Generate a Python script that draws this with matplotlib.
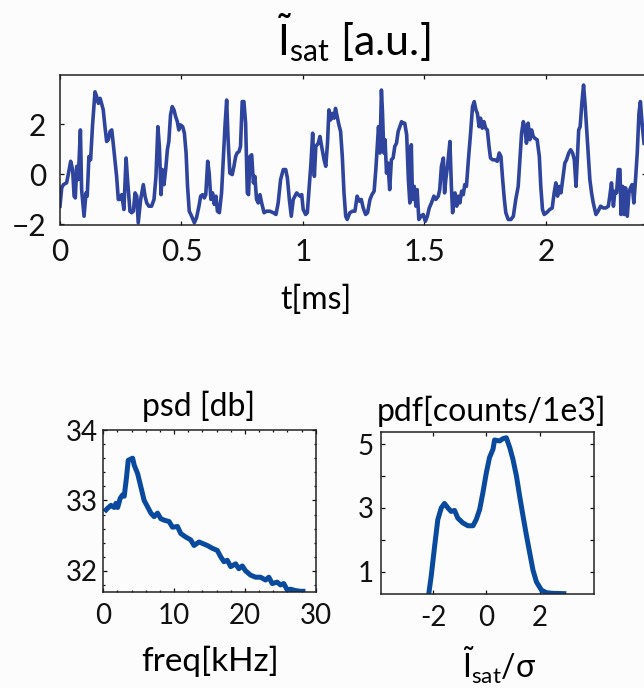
import matplotlib
matplotlib.use("Agg")
import matplotlib.pyplot as plt
from matplotlib.ticker import MultipleLocator

plt.rcParams["font.family"] = ["Lato", "DejaVu Sans"]
plt.rcParams["mathtext.fontset"] = "custom"
plt.rcParams["mathtext.rm"] = "Lato"
plt.rcParams["mathtext.it"] = "Lato:italic"

BG = "#fcfcfc"
TOP_C = "#2f449c"
BOT_C = "#0a4a9e"

# ---- time trace (ms, a.u.) ----
t_ms = [
    0.000, 0.007, 0.014, 0.027, 0.034, 0.044, 0.052, 0.058, 0.063, 0.069,
    0.075, 0.084, 0.089, 0.099, 0.107, 0.112, 0.119, 0.126, 0.134, 0.144,
    0.151, 0.158, 0.165, 0.171, 0.178, 0.185, 0.192, 0.199, 0.206, 0.213,
    0.219, 0.226, 0.233, 0.240, 0.247, 0.254, 0.263, 0.272, 0.278, 0.288,
    0.295, 0.302, 0.309, 0.316, 0.322, 0.332, 0.343, 0.350, 0.357, 0.366,
    0.377, 0.387, 0.395, 0.403, 0.409, 0.416, 0.421, 0.428, 0.435, 0.442,
    0.448, 0.455, 0.462, 0.469, 0.476, 0.483, 0.489, 0.496, 0.505, 0.512,
    0.519, 0.525, 0.532, 0.542, 0.553, 0.562, 0.572, 0.579, 0.587, 0.594,
    0.600, 0.608, 0.614, 0.621, 0.628, 0.635, 0.642, 0.648, 0.656, 0.665,
    0.672, 0.679, 0.686, 0.692, 0.699, 0.709, 0.716, 0.723, 0.729, 0.737,
    0.743, 0.750, 0.757, 0.764, 0.771, 0.776, 0.782, 0.789, 0.796, 0.802,
    0.809, 0.816, 0.823, 0.830, 0.840, 0.850, 0.864, 0.878, 0.889, 0.898,
    0.908, 0.919, 0.929, 0.936, 0.944, 0.952, 0.960, 0.967, 0.974, 0.981,
    0.988, 0.995, 1.001, 1.011, 1.018, 1.026, 1.033, 1.040, 1.047, 1.053,
    1.063, 1.070, 1.077, 1.087, 1.094, 1.101, 1.107, 1.114, 1.121, 1.128,
    1.134, 1.141, 1.148, 1.155, 1.162, 1.169, 1.176, 1.182, 1.193, 1.204,
    1.214, 1.223, 1.232, 1.240, 1.248, 1.258, 1.266, 1.276, 1.284, 1.293,
    1.300, 1.307, 1.311, 1.317, 1.323, 1.327, 1.333, 1.338, 1.344, 1.350,
    1.357, 1.364, 1.371, 1.378, 1.385, 1.392, 1.399, 1.406, 1.412, 1.419,
    1.427, 1.434, 1.440, 1.446, 1.451, 1.458, 1.465, 1.470, 1.477, 1.486,
    1.495, 1.504, 1.512, 1.520, 1.529, 1.539, 1.547, 1.557, 1.563, 1.570,
    1.578, 1.583, 1.588, 1.595, 1.605, 1.611, 1.616, 1.626, 1.633, 1.639,
    1.646, 1.653, 1.660, 1.666, 1.673, 1.681, 1.690, 1.698, 1.705, 1.712,
    1.718, 1.725, 1.731, 1.738, 1.745, 1.752, 1.759, 1.766, 1.772, 1.781,
    1.790, 1.800, 1.808, 1.815, 1.822, 1.829, 1.835, 1.845, 1.856, 1.866,
    1.876, 1.886, 1.893, 1.900, 1.907, 1.913, 1.920, 1.927, 1.934, 1.941,
    1.948, 1.954, 1.964, 1.973, 1.979, 1.986, 1.993, 2.003, 2.016, 2.026,
    2.034, 2.041, 2.048, 2.055, 2.062, 2.071, 2.078, 2.085, 2.094, 2.102,
    2.110, 2.117, 2.124, 2.129, 2.135, 2.141, 2.148, 2.155, 2.162, 2.167,
    2.174, 2.181, 2.188, 2.195, 2.206, 2.215, 2.225, 2.236, 2.247, 2.257,
    2.263, 2.270, 2.278, 2.284, 2.291, 2.298, 2.305, 2.309, 2.316, 2.322,
    2.328, 2.335, 2.342, 2.348, 2.355, 2.362, 2.369, 2.376, 2.383, 2.389,
    2.397, 2.404,
]
isat = [
    -1.27, -0.54, -0.41, -0.34, -0.01, 0.52, 0.19, -0.87, -0.94, 0.32,
    -0.21, 1.77, -0.61, -1.67, -0.74, -0.87, 0.71, 0.58, 1.97, 3.29,
    3.10, 2.83, 3.03, 2.83, 2.57, 1.90, 1.31, 1.38, 1.71, 1.77,
    1.24, 0.58, -0.08, -1.00, -1.00, -0.81, -1.40, 0.65, -0.21, -1.47,
    -1.53, -1.47, -0.74, -0.87, -1.93, -1.00, -0.41, -0.87, -1.14, -1.27,
    -1.27, -1.00, -0.08, 1.90, 1.11, -0.81, 0.19, -0.41, 0.19, 0.98,
    1.31, 2.37, 2.70, 2.57, 2.30, 2.10, 1.77, 1.97, 1.90, 1.64,
    0.85, -0.48, -1.47, -1.67, -1.93, -1.73, -1.27, -0.87, -0.81, -0.94,
    -0.81, 0.52, 0.05, -1.00, -0.74, -1.20, -0.87, -1.47, -1.53, -0.74,
    0.58, 1.90, 2.96, 1.38, 0.05, -0.01, 0.32, 0.71, 0.85, 0.91,
    1.11, 2.90, 2.90, 2.04, -0.74, -0.81, 0.71, 0.78, -0.34, -0.08,
    -1.00, -1.14, -0.81, -1.14, -1.53, -1.47, -1.47, -1.53, -1.60, -1.14,
    -0.21, 0.19, 0.19, -0.15, -1.00, -1.67, -1.00, -0.87, -0.74, -0.81,
    -0.87, -0.81, -1.40, -1.60, -1.53, -0.48, 0.45, 1.64, -0.08, 1.11,
    1.24, 1.51, 1.11, 0.58, 0.32, 1.24, 2.57, 2.17, 2.43, 2.24,
    2.63, 2.30, 1.97, 1.71, 0.71, -0.74, -1.67, -1.80, -1.53, -1.47,
    -1.47, -0.87, -1.07, -1.00, -1.34, -1.60, -1.53, -1.00, -0.81, -0.67,
    0.19, 1.24, 1.90, 0.85, 3.36, 2.57, 0.85, 1.38, 0.05, 0.45,
    -0.61, 0.58, 0.65, 1.11, 1.24, 1.71, 1.90, 2.10, 2.04, 2.04,
    1.57, -0.21, -1.14, 1.18, -1.00, -0.48, -1.27, -0.61, -1.80, -1.67,
    -1.60, -1.87, -1.67, -1.34, -1.14, -0.87, -1.00, -0.87, -0.61, 0.32,
    0.65, -0.74, -0.21, 0.32, 1.31, -0.48, -1.53, -0.74, -1.27, -0.87,
    -1.14, -0.67, -0.81, -0.41, -0.48, 0.58, 1.64, 2.70, 2.90, 2.57,
    2.43, 1.90, 2.24, 1.84, 2.10, 1.84, 1.77, 1.11, 0.65, 0.58,
    0.58, 0.52, 0.85, 0.71, -0.21, -1.00, -1.53, -1.80, -1.80, -1.67,
    -1.00, -0.48, 0.58, 1.64, 2.10, 1.90, 1.24, 2.04, 1.38, 1.77,
    1.51, 1.44, 1.38, 0.71, -0.48, -1.40, -1.60, -1.53, -1.40, -1.34,
    -0.74, -0.34, -0.87, -0.48, -0.74, -0.08, 0.45, 0.58, 0.85, 0.98,
    0.85, 0.58, -0.48, 0.58, 1.77, 1.90, 2.83, 3.56, 2.70, 1.90,
    0.85, -0.21, -0.74, -1.14, -1.60, -1.47, -1.27, -1.34, -1.34, -1.27,
    -0.87, -0.34, -1.27, -0.67, -0.74, 0.19, 0.19, -1.60, -0.48, -1.60,
    -0.54, -1.67, -0.74, -0.54, -0.41, -1.14, -0.21, 0.85, 2.43, 2.90,
    1.90, 1.24,
]

# ---- power spectrum ----
freq_khz = [
    0.14, 0.62, 1.08, 1.55, 1.79, 2.03, 2.39, 2.73, 2.96, 3.29,
    3.52, 4.14, 4.37, 4.85, 5.31, 5.77, 6.25, 6.72, 7.18, 7.66,
    8.13, 8.59, 9.30, 9.77, 10.48, 10.94, 11.65, 12.35, 12.82, 13.52,
    14.00, 14.70, 15.41, 16.11, 16.58, 17.04, 17.52, 17.99, 18.69, 19.15,
    19.63, 20.10, 20.80, 21.51, 22.21, 22.92, 23.38, 23.86, 24.56, 25.03,
    25.49, 25.97, 26.44, 27.14, 27.85, 28.55,
]
psd_db = [
    32.84, 32.89, 32.93, 32.90, 32.96, 32.90, 33.03, 33.08, 33.06, 33.34,
    33.57, 33.60, 33.50, 33.38, 33.19, 33.00, 32.91, 32.82, 32.77, 32.82,
    32.74, 32.72, 32.70, 32.62, 32.63, 32.53, 32.48, 32.44, 32.36, 32.41,
    32.39, 32.36, 32.32, 32.29, 32.20, 32.13, 32.15, 32.06, 32.10, 32.03,
    32.07, 32.00, 31.94, 31.91, 31.91, 31.87, 31.91, 31.82, 31.84, 31.80,
    31.82, 31.73, 31.74, 31.72, 31.71, 31.71,
]

# ---- pdf ----
pdf_x = [
    -2.16, -2.07, -1.94, -1.82, -1.69, -1.57, -1.44, -1.32, -1.19, -1.07,
    -0.88, -0.69, -0.50, -0.38, -0.25, -0.13, 0.00, 0.12, 0.25, 0.31,
    0.50, 0.62, 0.75, 0.88, 1.00, 1.13, 1.25, 1.38, 1.50, 1.63,
    1.75, 1.88, 2.07, 2.26, 2.50, 3.00,
]
pdf_counts = [
    0.30, 0.84, 1.79, 2.63, 3.00, 3.14, 3.00, 2.89, 2.92, 2.68,
    2.53, 2.44, 2.44, 2.63, 2.95, 3.47, 4.10, 4.58, 4.84, 5.13,
    5.10, 5.17, 5.20, 4.89, 4.52, 4.00, 3.37, 2.73, 2.16, 1.58,
    1.05, 0.68, 0.42, 0.34, 0.32, 0.31,
]

W, H = 644, 688
fig = plt.figure(figsize=(W / 100, H / 100), dpi=100, facecolor=BG)


def px_axes(x0, y0, x1, y1):
    return fig.add_axes([x0 / W, 1 - y1 / H, (x1 - x0) / W, (y1 - y0) / H])


def style(ax, size):
    ax.set_facecolor(BG)
    for s in ax.spines.values():
        s.set_linewidth(1.1)
        s.set_color("#222222")
    ax.tick_params(which="both", direction="in", top=True, right=True,
                   length=3, width=0.9, labelsize=size, colors="#111111")
    ax.tick_params(which="minor", length=1.5)


# top: time trace
ax1 = px_axes(60, 75, 645.5, 224.5)
style(ax1, 21.5)
ax1.plot(t_ms, isat, color=TOP_C, lw=2.6)
ax1.set_xlim(0, 2.41)
ax1.set_ylim(-2, 3.96)
ax1.set_xticks([0, 0.5, 1, 1.5, 2])
ax1.set_xticklabels(["0", "0.5", "1", "1.5", "2"])
ax1.set_yticks([-2, 0, 2])
ax1.tick_params(axis="x", pad=10)
ax1.tick_params(axis="y", pad=10)
fig.text(354 / W, 1 - 38.5 / H, r"$\tilde{\mathrm{I}}_{\mathrm{sat}}$ [a.u.]",
         ha="center", va="center", fontsize=31)
fig.text(316 / W, 1 - 300 / H, "t[ms]", ha="center", va="center", fontsize=23)

# bottom left: psd
ax2 = px_axes(103.3, 430, 315.7, 592)
style(ax2, 20)
ax2.plot(freq_khz, psd_db, color=BOT_C, lw=3.6, solid_capstyle="butt")
ax2.set_xlim(0, 30)
ax2.set_ylim(31.7, 34)
ax2.set_xticks([0, 10, 20, 30])
ax2.set_yticks([32, 33, 34])
ax2.yaxis.set_minor_locator(MultipleLocator(0.2))
ax2.xaxis.set_minor_locator(MultipleLocator(2))
ax2.tick_params(axis="x", pad=8)
ax2.tick_params(axis="y", pad=4)
fig.text(199 / W, 1 - 406 / H, "psd [db]", ha="center", va="center", fontsize=23)
fig.text(210 / W, 1 - 661 / H, "freq[kHz]", ha="center", va="center", fontsize=24)

# bottom right: pdf
ax3 = px_axes(381, 431.7, 594.3, 594)
style(ax3, 20)
ax3.plot(pdf_x, pdf_counts, color=BOT_C, lw=3.6, solid_capstyle="butt")
ax3.set_xlim(-3.95, 4.05)
ax3.set_ylim(0.3, 5.39)
ax3.set_xticks([-2, 0, 2])
ax3.set_xticklabels(["-2", "0", "2"])
ax3.set_yticks([1, 2, 3, 4, 5])
ax3.set_yticklabels(["1", "", "3", "", "5"])
ax3.tick_params(axis="x", pad=8)
ax3.tick_params(axis="y", pad=5)
fig.text(491.7 / W, 1 - 411.7 / H, "pdf[counts/1e3]", ha="center", va="center", fontsize=23)
fig.text(499 / W, 1 - 665 / H, r"$\tilde{\mathrm{I}}_{\mathrm{sat}}$/σ",
         ha="center", va="center", fontsize=23)

fig.savefig("out.png", dpi=100, facecolor=BG)
